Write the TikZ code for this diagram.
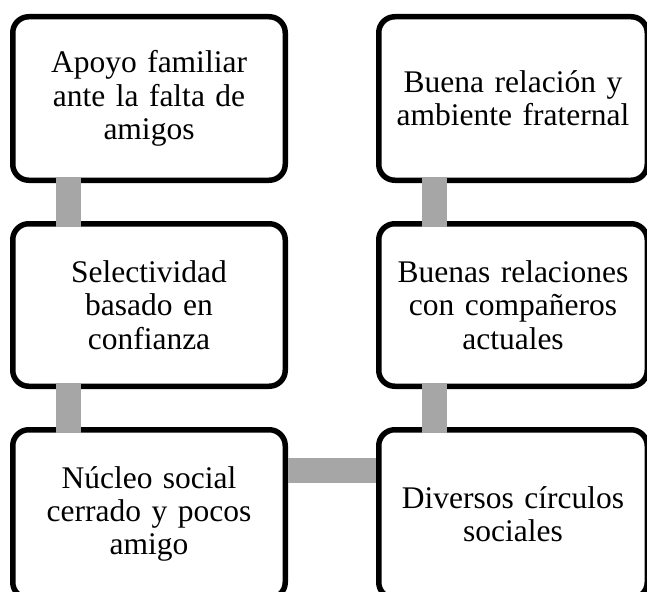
\documentclass[tikz,border=0pt]{standalone}
\usepackage{fontspec}
\setmainfont{Liberation Serif}
\begin{document}
\begin{tikzpicture}[x=1pt,y=-1pt,
  box/.style={draw=black, line width=5.5pt, rounded corners=16pt, fill=white,
    inner sep=0pt, outer sep=0pt, align=center, text width=255pt,
    font=\fontsize{31.5}{33.3}\selectfont},
  conn/.style={line width=25pt, draw={rgb,255:red,166;green,166;blue,166}}]
\useasboundingbox (0,0) rectangle (647,591);
\clip (0,0) rectangle (647,591);
\node[box, minimum width=272.5pt, minimum height=163.5pt] (a1) at (149,98.5) {Apoyo familiar\\ante la falta de\\amigos};
\node[box, minimum width=272.5pt, minimum height=162.5pt] (a2) at (149,305) {Selectividad\\basado en\\confianza};
\node[box, minimum width=272.5pt, minimum height=168.5pt] (a3) at (149,514) {Núcleo social\\cerrado y pocos\\amigo};
\node[box, minimum width=268.5pt, minimum height=163.5pt] (b1) at (513,98.5) {Buena relación y\\ambiente fraternal};
\node[box, minimum width=268.5pt, minimum height=162.5pt] (b2) at (513,305) {Buenas relaciones\\con compañeros\\actuales};
\node[box, minimum width=268.5pt, minimum height=168.5pt] (b3) at (513,514) {Diversos círculos\\sociales};
\begin{scope}[on background layer/.try]
\end{scope}
\draw[conn] ([xshift=-80.5pt,yshift=2.8pt]a1.south) -- ([xshift=-80.5pt,yshift=-2.8pt]a2.north);
\draw[conn] ([xshift=-80.5pt,yshift=2.8pt]a2.south) -- ([xshift=-80.5pt,yshift=-2.8pt]a3.north);
\draw[conn] ([xshift=-78.5pt,yshift=2.8pt]b1.south) -- ([xshift=-78.5pt,yshift=-2.8pt]b2.north);
\draw[conn] ([xshift=-78.5pt,yshift=2.8pt]b2.south) -- ([xshift=-78.5pt,yshift=-2.8pt]b3.north);
\draw[conn] ([xshift=2.8pt,yshift=43.5pt]a3.east) -- ([xshift=-2.8pt,yshift=43.5pt]b3.west);
\end{tikzpicture}
\end{document}
